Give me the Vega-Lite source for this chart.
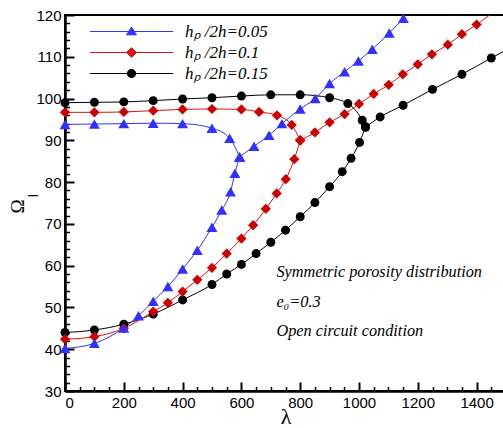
{
  "$schema": "https://vega.github.io/schema/vega-lite/v6.json",
  "width": 441,
  "height": 376,
  "autosize": {"type": "none"},
  "padding": {"left": 65, "top": 15, "right": 0, "bottom": 37},
  "background": "white",
  "config": {
    "view": {"stroke": "black", "strokeWidth": 2},
    "axis": {"grid": false, "labelFont": "Liberation Sans", "labelFontSize": 15, "labelColor": "black", "tickColor": "black", "domainColor": "black", "titleColor": "black", "titleFontWeight": "normal"}
  },
  "datasets": {"pts": [
    {"s":"0.15","b":"u","x":0,"y":99.0},{"s":"0.15","b":"u","x":100,"y":99.1},{"s":"0.15","b":"u","x":200,"y":99.2},{"s":"0.15","b":"u","x":300,"y":99.5},{"s":"0.15","b":"u","x":400,"y":99.9},{"s":"0.15","b":"u","x":500,"y":100.2},{"s":"0.15","b":"u","x":600,"y":100.6},{"s":"0.15","b":"u","x":700,"y":100.9},{"s":"0.15","b":"u","x":800,"y":100.9},{"s":"0.15","b":"u","x":900,"y":100.2},{"s":"0.15","b":"u","x":962,"y":98.8},{"s":"0.15","b":"u","x":1011,"y":94.8},{"s":"0.15","b":"u","x":1022,"y":93.2},
    {"s":"0.15","b":"l","x":0,"y":44.0},{"s":"0.15","b":"l","x":100,"y":44.6},{"s":"0.15","b":"l","x":200,"y":46.0},{"s":"0.15","b":"l","x":300,"y":48.4},{"s":"0.15","b":"l","x":400,"y":51.8},{"s":"0.15","b":"l","x":500,"y":55.5},{"s":"0.15","b":"l","x":550,"y":58.0},{"s":"0.15","b":"l","x":600,"y":60.3},{"s":"0.15","b":"l","x":650,"y":62.9},{"s":"0.15","b":"l","x":700,"y":65.6},{"s":"0.15","b":"l","x":750,"y":68.5},{"s":"0.15","b":"l","x":800,"y":71.7},{"s":"0.15","b":"l","x":850,"y":75.1},{"s":"0.15","b":"l","x":900,"y":78.9},{"s":"0.15","b":"l","x":943,"y":82.5},{"s":"0.15","b":"l","x":973,"y":85.7},{"s":"0.15","b":"l","x":1002,"y":89.5},{"s":"0.15","b":"l","x":1022,"y":93.2},
    {"s":"0.15","b":"r","x":1022,"y":93.2},{"s":"0.15","b":"r","x":1072,"y":95.6},{"s":"0.15","b":"r","x":1150,"y":98.4},{"s":"0.15","b":"r","x":1250,"y":102.2},{"s":"0.15","b":"r","x":1350,"y":105.8},{"s":"0.15","b":"r","x":1450,"y":109.7},{"s":"0.15","b":"r","x":1500,"y":111.6},
    {"s":"0.1","b":"u","x":0,"y":96.7},{"s":"0.1","b":"u","x":100,"y":96.7},{"s":"0.1","b":"u","x":200,"y":96.8},{"s":"0.1","b":"u","x":300,"y":97.1},{"s":"0.1","b":"u","x":400,"y":97.4},{"s":"0.1","b":"u","x":500,"y":97.5},{"s":"0.1","b":"u","x":600,"y":97.4},{"s":"0.1","b":"u","x":660,"y":96.8},{"s":"0.1","b":"u","x":721,"y":96.0},{"s":"0.1","b":"u","x":771,"y":93.7},{"s":"0.1","b":"u","x":800,"y":90.0},
    {"s":"0.1","b":"l","x":0,"y":42.4},{"s":"0.1","b":"l","x":100,"y":43.0},{"s":"0.1","b":"l","x":200,"y":45.0},{"s":"0.1","b":"l","x":300,"y":49.0},{"s":"0.1","b":"l","x":350,"y":51.1},{"s":"0.1","b":"l","x":400,"y":53.8},{"s":"0.1","b":"l","x":450,"y":56.6},{"s":"0.1","b":"l","x":500,"y":59.5},{"s":"0.1","b":"l","x":550,"y":62.9},{"s":"0.1","b":"l","x":600,"y":66.5},{"s":"0.1","b":"l","x":640,"y":69.7},{"s":"0.1","b":"l","x":683,"y":73.6},{"s":"0.1","b":"l","x":720,"y":77.3},{"s":"0.1","b":"l","x":751,"y":80.7},{"s":"0.1","b":"l","x":780,"y":85.5},{"s":"0.1","b":"l","x":800,"y":90.0},
    {"s":"0.1","b":"r","x":800,"y":90.0},{"s":"0.1","b":"r","x":850,"y":91.9},{"s":"0.1","b":"r","x":900,"y":94.3},{"s":"0.1","b":"r","x":951,"y":96.3},{"s":"0.1","b":"r","x":1000,"y":98.7},{"s":"0.1","b":"r","x":1050,"y":101.1},{"s":"0.1","b":"r","x":1101,"y":103.3},{"s":"0.1","b":"r","x":1149,"y":105.8},{"s":"0.1","b":"r","x":1200,"y":108.2},{"s":"0.1","b":"r","x":1248,"y":110.6},{"s":"0.1","b":"r","x":1302,"y":112.9},{"s":"0.1","b":"r","x":1350,"y":115.4},{"s":"0.1","b":"r","x":1400,"y":117.7},{"s":"0.1","b":"r","x":1450,"y":120.3},
    {"s":"0.05","b":"u","x":0,"y":93.8},{"s":"0.05","b":"u","x":100,"y":93.9},{"s":"0.05","b":"u","x":200,"y":94.0},{"s":"0.05","b":"u","x":300,"y":94.1},{"s":"0.05","b":"u","x":400,"y":94.0},{"s":"0.05","b":"u","x":500,"y":92.9},{"s":"0.05","b":"u","x":560,"y":90.5},{"s":"0.05","b":"u","x":594,"y":86.0},
    {"s":"0.05","b":"l","x":0,"y":40.2},{"s":"0.05","b":"l","x":100,"y":41.4},{"s":"0.05","b":"l","x":200,"y":45.1},{"s":"0.05","b":"l","x":250,"y":48.0},{"s":"0.05","b":"l","x":300,"y":51.5},{"s":"0.05","b":"l","x":350,"y":55.0},{"s":"0.05","b":"l","x":400,"y":59.2},{"s":"0.05","b":"l","x":450,"y":63.7},{"s":"0.05","b":"l","x":500,"y":69.2},{"s":"0.05","b":"l","x":533,"y":73.3},{"s":"0.05","b":"l","x":563,"y":77.7},{"s":"0.05","b":"l","x":578,"y":82.1},{"s":"0.05","b":"l","x":594,"y":86.0},
    {"s":"0.05","b":"r","x":594,"y":86.0},{"s":"0.05","b":"r","x":643,"y":88.6},{"s":"0.05","b":"r","x":694,"y":91.2},{"s":"0.05","b":"r","x":738,"y":94.0},{"s":"0.05","b":"r","x":800,"y":97.5},{"s":"0.05","b":"r","x":851,"y":100.0},{"s":"0.05","b":"r","x":900,"y":103.6},{"s":"0.05","b":"r","x":951,"y":106.4},{"s":"0.05","b":"r","x":998,"y":109.0},{"s":"0.05","b":"r","x":1045,"y":111.8},{"s":"0.05","b":"r","x":1103,"y":115.7},{"s":"0.05","b":"r","x":1151,"y":119.2}
  ]},
  "data": {"name": "pts"},
  "resolve": {"axis": {"x": "independent", "y": "independent"}},
  "layer": [
    {
      "mark": {"type": "line", "strokeWidth": 1, "interpolate": "monotone", "clip": true},
      "encoding": {
        "x": {"field": "x", "type": "quantitative", "scale": {"domain": [0, 1500], "nice": false},
          "axis": {"orient": "bottom", "values": [0,200,400,600,800,1000,1200,1400], "format": "d", "tickSize": -9, "tickWidth": 2, "domainWidth": 2.5, "labelPadding": 13, "title": "λ", "titleFont": "Liberation Serif", "titleFontSize": 22, "titlePadding": -4}},
        "y": {"field": "y", "type": "quantitative", "scale": {"domain": [30, 120], "nice": false, "zero": false},
          "axis": {"orient": "left", "values": [30,40,50,60,70,80,90,100,110,120], "tickSize": -9, "tickWidth": 2, "domainWidth": 2.5, "labelPadding": 13, "title": "Ω", "titleFont": "Liberation Serif", "titleFontSize": 19, "titlePadding": 8, "titleY": 191}},
        "color": {"field": "s", "type": "nominal",
          "scale": {"domain": ["0.05", "0.1", "0.15"], "range": ["#3030ff", "#dd1111", "#000000"]},
          "legend": {"orient": "none", "legendX": 58, "legendY": 8, "padding": 0, "title": null, "symbolSize": 256, "symbolStrokeWidth": 1, "rowPadding": 3, "labelOffset": 45, "labelFont": "Liberation Serif", "labelFontStyle": "italic", "labelFontSize": 17, "labelColor": "black",
            "labelExpr": "'hₚ /2h=' + datum.label",
            "encode": {"symbols": {"update": {
              "shape": {"signal": "datum.value === '0.05' ? 'M-5.2,0L5.2,0M0,-0.56L0.62,0.42L-0.62,0.42Z' : datum.value === '0.1' ? 'M-5.2,0L5.2,0M-0.64,0L0,-0.6L0.64,0L0,0.6Z' : 'M-5.2,0L5.2,0M-0.52,0A0.52,0.52,0,1,0,0.52,0A0.52,0.52,0,1,0,-0.52,0Z'"},
              "fill": {"scale": "color", "field": "value"},
              "stroke": {"scale": "color", "field": "value"},
              "strokeWidth": {"value": 1},
              "opacity": {"value": 1}
            }}}}},
        "detail": {"field": "b", "type": "nominal"}
      }
    },
    {
      "transform": [{"filter": "datum.s === '0.15' && datum.x <= 1490 && datum.y <= 120"}],
      "mark": {"type": "point", "shape": "circle", "filled": true, "opacity": 1, "size": 80, "color": "#000000", "strokeWidth": 0},
      "encoding": {
        "x": {"field": "x", "type": "quantitative",
          "axis": {"orient": "bottom", "values": [50,100,150,250,300,350,450,500,550,650,700,750,850,900,950,1050,1100,1150,1250,1300,1350,1450], "tickSize": -4.5, "tickWidth": 1.5, "labels": false, "domain": false, "title": null}},
        "y": {"field": "y", "type": "quantitative",
          "axis": {"orient": "left", "values": [32,34,36,38,42,44,46,48,52,54,56,58,62,64,66,68,72,74,76,78,82,84,86,88,92,94,96,98,102,104,106,108,112,114,116,118], "tickSize": -4.5, "tickWidth": 1.5, "labels": false, "domain": false, "title": "I", "titleFont": "Liberation Sans", "titleFontSize": 14, "titleFontWeight": "normal", "titleAngle": 270, "titleAlign": "center", "titleBaseline": "middle", "titleX": -32, "titleY": 180}}
      }
    },
    {
      "transform": [{"filter": "datum.s === '0.1' && datum.x <= 1490 && datum.y <= 120"}],
      "mark": {"type": "point", "shape": "diamond", "filled": true, "opacity": 1, "size": 105, "color": "#cc0000", "strokeWidth": 0},
      "encoding": {
        "x": {"field": "x", "type": "quantitative", "axis": null},
        "y": {"field": "y", "type": "quantitative", "axis": null}
      }
    },
    {
      "transform": [{"filter": "datum.s === '0.05' && datum.x <= 1490 && datum.y <= 120"}],
      "mark": {"type": "point", "shape": "triangle-up", "filled": true, "opacity": 1, "size": 120, "color": "#3030ff", "strokeWidth": 0},
      "encoding": {
        "x": {"field": "x", "type": "quantitative", "axis": null},
        "y": {"field": "y", "type": "quantitative", "axis": null}
      }
    },
    {
      "data": {"values": [{}]},
      "mark": {"type": "text", "align": "left", "baseline": "middle", "font": "Liberation Serif", "fontStyle": "italic", "fontSize": 16.3, "color": "black", "lineHeight": 29.7,
        "text": ["Symmetric porosity distribution", "e₀=0.3", "Open circuit condition"]},
      "encoding": {
        "x": {"datum": 719, "type": "quantitative", "axis": null},
        "y": {"datum": 58.5, "type": "quantitative", "axis": null}
      }
    }
  ]
}
